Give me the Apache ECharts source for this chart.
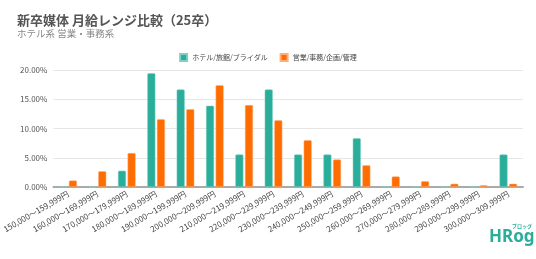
<!DOCTYPE html>
<html>
<head>
<meta charset="utf-8">
<script src="https://cdn.jsdelivr.net/npm/echarts@6/dist/echarts.min.js"></script>
<style>
  html, body { margin: 0; padding: 0; background: #fff; }
  #chart { width: 536px; height: 259px; }
</style>
</head>
<body>
<div id="chart"></div>
<script>
// 月給レンジ（カテゴリ）
const ranges = [
  "150,000～159,999円", "160,000～169,999円", "170,000～179,999円", "180,000～189,999円",
  "190,000～199,999円", "200,000～209,999円", "210,000～219,999円", "220,000～229,999円",
  "230,000～239,999円", "240,000～249,999円", "250,000～259,999円", "260,000～269,999円",
  "270,000～279,999円", "280,000～289,999円", "290,000～299,999円", "300,000～309,999円"
];
// ホテル/旅館/ブライダル（%）
const hotelValues = [0, 0, 2.78, 19.44, 16.67, 13.89, 5.56, 16.67, 5.56, 5.56, 8.33, 0, 0, 0, 0, 5.56];
// 営業/事務/企画/管理（%）
const officeValues = [1.1, 2.7, 5.8, 11.6, 13.3, 17.4, 14.0, 11.4, 8.0, 4.7, 3.7, 1.8, 1.0, 0.55, 0.3, 0.55];
const seriesNames = ["ホテル/旅館/ブライダル", "営業/事務/企画/管理"];

const FONT = "'Noto Sans CJK JP', 'Noto Sans', sans-serif";
const TEAL = "#2aae9b";
const ORANGE = "#ff6d01";

const chart = echarts.init(document.getElementById("chart"));

chart.setOption({
  animation: false,
  textStyle: { fontFamily: FONT },
  title: {
    text: "新卒媒体 月給レンジ比較（25卒）",
    subtext: "ホテル系 営業・事務系",
    left: 12,
    top: 9,
    itemGap: 2,
    textStyle: { fontSize: 13, fontWeight: "bold", color: "#555", fontFamily: FONT },
    subtextStyle: { fontSize: 9.5, color: "#888", fontFamily: FONT }
  },
  legend: {
    data: seriesNames,
    top: 48,
    left: "center",
    itemWidth: 7,
    itemHeight: 7,
    itemGap: 12,
    icon: "rect",
    textStyle: { fontSize: 7, color: "#444", fontFamily: FONT }
  },
  grid: { left: 42, right: 13, top: 70, bottom: 72, containLabel: false },
  xAxis: {
    type: "category",
    data: ranges,
    axisTick: { show: false },
    axisLine: { lineStyle: { color: "#aaa", width: 2 } },
    axisLabel: { interval: 0, rotate: 30, fontSize: 8, color: "#444", margin: 6, fontFamily: FONT }
  },
  yAxis: {
    type: "value",
    min: 0,
    max: 20,
    interval: 5,
    axisLine: { show: false },
    axisTick: { show: false },
    splitLine: { lineStyle: { color: "#e6e6e6", width: 1 } },
    axisLabel: {
      fontSize: 8,
      color: "#555",
      margin: 6,
      fontFamily: FONT,
      formatter: (v) => v.toFixed(2) + "%"
    }
  },
  series: [
    {
      name: seriesNames[0],
      type: "bar",
      data: hotelValues,
      barWidth: 8,
      barGap: "20%",
      itemStyle: { color: TEAL, borderColor: "#7fd0c3", borderWidth: 0.5, borderRadius: [1, 1, 0, 0] }
    },
    {
      name: seriesNames[1],
      type: "bar",
      data: officeValues,
      barWidth: 8,
      barGap: "20%",
      itemStyle: { color: ORANGE, borderColor: "#ffae7a", borderWidth: 0.5, borderRadius: [1, 1, 0, 0] }
    }
  ],
  graphic: [
    {
      type: "text",
      left: 489,
      top: 229,
      style: { text: "HRog", fill: TEAL, font: "bold 17px 'Noto Sans', sans-serif" }
    },
    {
      type: "text",
      left: 512,
      top: 224,
      style: { text: "ブロッグ", fill: TEAL, font: "bold 5px 'Noto Sans CJK JP', sans-serif" }
    }
  ]
});
</script>
</body>
</html>
